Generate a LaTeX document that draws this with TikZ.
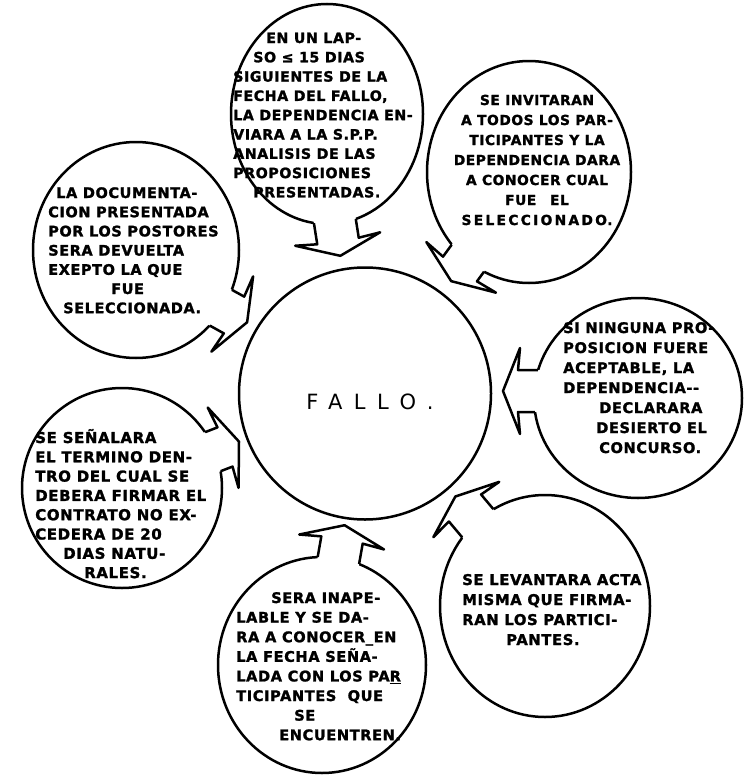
\documentclass[tikz,border=0pt]{standalone}
\usepackage{fontspec}
\newfontfamily\lettering[LetterSpace=4, FakeBold=1.5]{DejaVu Sans}
\newfontfamily\fallofont[LetterSpace=55]{DejaVu Sans}
\tikzset{
	btext/.style args={#1/#2}{font={\lettering\bfseries\fontsize{#1}{#2}\selectfont}, align=left, anchor=base west, inner sep=0pt},
}
\begin{document}
\begin{tikzpicture}[x=1pt, y=1pt, line width=2.5pt, line join=round]
	\fill[white] (0,0) rectangle (749,-776);
	\useasboundingbox (0,0) rectangle (749,-776);
	%centre
	\node[draw, circle, minimum size=252pt, inner sep=0pt] (fallo) at (365,-393.5) {};
	\node[font=\fallofont\fontsize{21}{24}\selectfont] (fallotxt) at (370,-402) {FALLO.};

	%bubbles: centre, radii, arrow root, arrow angle
	\foreach \cx/\cy/\rx/\ry/\bx/\by/\a in {327/-114/96/110/338/-241/-81, 529/-172/102/111/460/-269/-126, 136/-250/103/108/234/-315/-29, 638/-398/104/100/518/-391/180, 122/-488/100/100/225/-447/21, 545/-606/105/111/465/-508/130, 322/-665/104/108/342/-540/80}{
		\draw (\cx,\cy) ellipse [x radius=\rx, y radius=\ry];
		\fill[white, shift={(\bx,\by)}, rotate=\a] (-30,-21) rectangle (0,21);
		\begin{scope}[even odd rule]
			\clip (0,0) rectangle (749,-776) (\cx,\cy) ellipse [x radius=\rx, y radius=\ry];
			\draw[shift={(\bx,\by)}, rotate=\a] (-30,-21) -- (0,-21) -- (-2,-43) -- (15,0) -- (-2,43) -- (0,21) -- (-30,21);
		\end{scope}
	}

	%texts (anchored at the baseline of their last line)
	\node[btext=14.2/19.3] (lapso) at (232,-197.4) {\hspace*{33pt}EN UN LAP-\\ \hspace*{20pt}SO ≤ 15 DIAS\\ SIGUIENTES DE LA\\ FECHA DEL FALLO,\\ LA DEPENDENCIA EN-\\ VIARA A LA S.P.P.\\ ANALISIS DE LAS\\ PROPOSICIONES\\ \hspace*{20pt}PRESENTADAS.};
	\node[btext=13.8/20, align=center, anchor=base] (invita) at (537,-225) {SE INVITARAN\\ A TODOS LOS PAR-\\ TICIPANTES Y LA\\ DEPENDENCIA DARA\\ A CONOCER CUAL\\ FUE\quad EL\\ S\,E\,L\,E\,C\,C\,I\,O\,N\,A\,D\,O.};
	\node[btext=14.5/19.2] (docu) at (47,-313.2) {\hspace*{8pt}LA DOCUMENTA-\\ CION PRESENTADA\\ POR LOS POSTORES\\ SERA DEVUELTA\\ EXEPTO LA QUE\\ \hspace*{63pt}FUE\\ \hspace*{15pt}SELECCIONADA.};
	\node[btext=14.6/20] (desierto) at (562,-453) {SI NINGUNA PRO-\\ POSICION FUERE\\ ACEPTABLE, LA\\ DEPENDENCIA--\\ \hspace*{36pt}DECLARARA\\ \hspace*{33pt}DESIERTO EL\\ \hspace*{36pt}CONCURSO.};
	\node[btext=15/19.3] (senala) at (34,-578.1) {SE SEÑALARA\\ EL TERMINO DEN-\\ TRO DEL CUAL SE\\ DEBERA FIRMAR EL\\ CONTRATO NO EX-\\ CEDERA DE 20\\ \hspace*{28pt}DIAS NATU-\\ \hspace*{49pt}RALES.};
	\node[btext=14.8/20] (acta) at (461,-645) {SE LEVANTARA ACTA\\ MISMA QUE FIRMA-\\ RAN LOS PARTICI-\\ \hspace*{44pt}PANTES.};
	\node[btext=14.6/19.6] (inapela) at (235,-740.2) {\hspace*{35pt}SERA INAPE-\\ LABLE Y SE DA-\\ RA A CONOCER\_EN\\ LA FECHA SEÑA-\\ LADA CON LOS PA\underline{R}\\ TICIPANTES\ \ QUE\\ \hspace*{58pt}SE\\ \hspace*{43pt}ENCUENTREN.};
\end{tikzpicture}
\end{document}
